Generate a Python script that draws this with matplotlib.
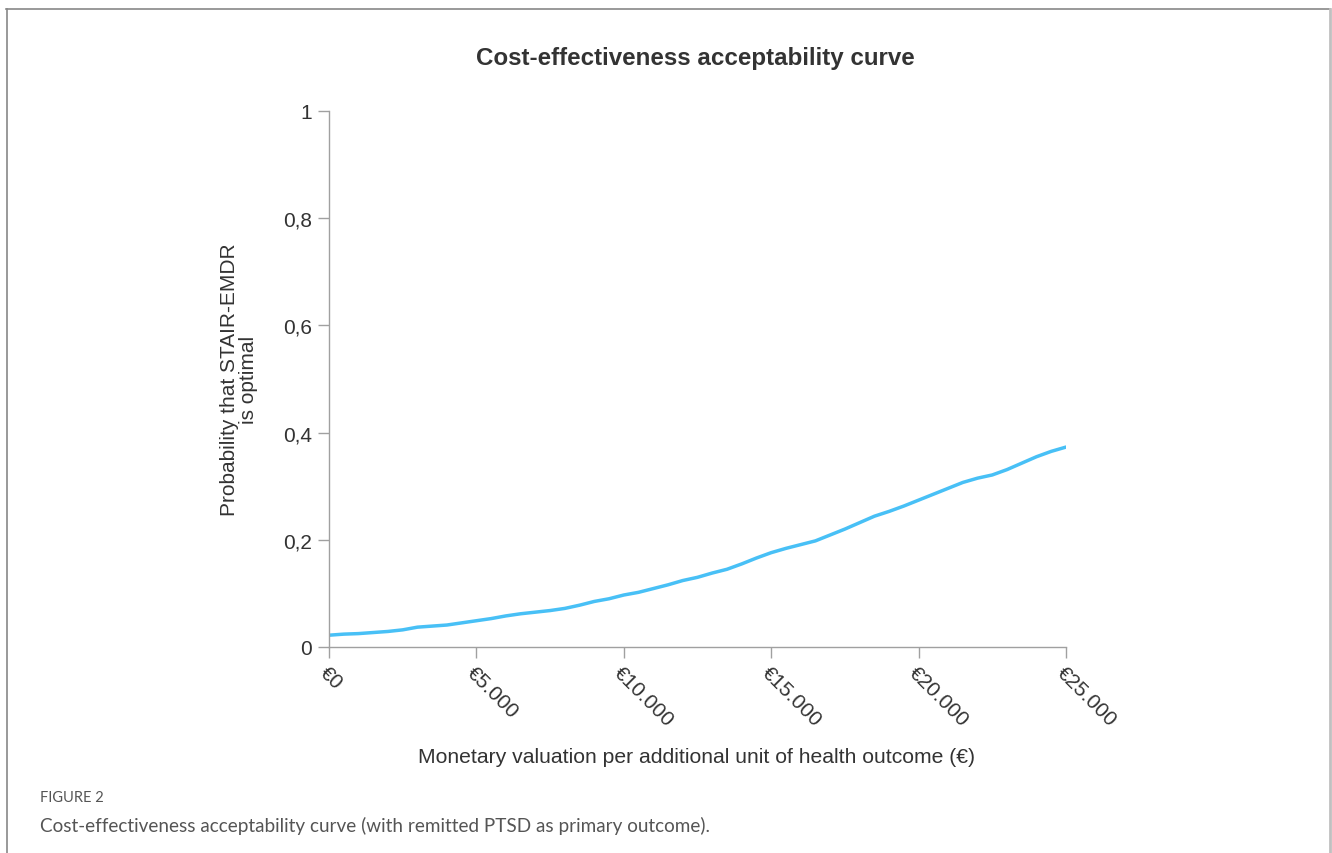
import matplotlib
matplotlib.use("Agg")
import matplotlib.pyplot as plt
from matplotlib.lines import Line2D

# ---- data ----
wtp = [0, 500, 1000, 1500, 2000, 2500, 3000, 3500, 4000, 4500, 5000, 5500, 6000,
       6500, 7000, 7500, 8000, 8500, 9000, 9500, 10000, 10500, 11000, 11500, 12000,
       12500, 13000, 13500, 14000, 14500, 15000, 15500, 16000, 16500, 17000, 17500,
       18000, 18500, 19000, 19500, 20000, 20500, 21000, 21500, 22000, 22500, 23000,
       23500, 24000, 24500, 25000]
prob = [0.022, 0.024, 0.025, 0.027, 0.029, 0.032, 0.037, 0.039, 0.041, 0.045, 0.049,
        0.053, 0.058, 0.062, 0.065, 0.068, 0.072, 0.078, 0.085, 0.090, 0.097, 0.102,
        0.109, 0.116, 0.124, 0.130, 0.138, 0.145, 0.155, 0.166, 0.176, 0.184, 0.191,
        0.198, 0.209, 0.220, 0.232, 0.244, 0.253, 0.263, 0.274, 0.285, 0.296, 0.307,
        0.315, 0.321, 0.331, 0.343, 0.355, 0.365, 0.373]
x_ticks = [0, 5000, 10000, 15000, 20000, 25000]
x_tick_labels = ["€0", "€5.000", "€10.000", "€15.000", "€20.000", "€25.000"]
y_ticks = [0, 0.2, 0.4, 0.6, 0.8, 1.0]
y_tick_labels = ["0", "0,2", "0,4", "0,6", "0,8", "1"]

title = "Cost-effectiveness acceptability curve"
xlabel = "Monetary valuation per additional unit of health outcome (€)"
ylabel = "Probability that STAIR-EMDR\nis optimal"

W, H = 1332, 854
plt.rcParams['font.family'] = ['Liberation Sans', 'DejaVu Sans']
fig = plt.figure(figsize=(W / 100, H / 100), dpi=100)
fig.patch.set_facecolor("white")

ax = fig.add_axes([329 / W, 1 - 648 / H, (1066 - 329) / W, (648 - 112) / H])
ax.plot(wtp, prob, color="#48c0f6", lw=2.5, solid_capstyle="round")
ax.set_xlim(0, 25000)
ax.set_ylim(0, 1)
for s in ["top", "right"]:
    ax.spines[s].set_visible(False)
for s in ["left", "bottom"]:
    ax.spines[s].set_color("#a0a0a0")
    ax.spines[s].set_linewidth(1.0)
ax.tick_params(axis="both", direction="out", length=8, width=1.0, color="#a0a0a0",
               labelcolor="#333333", labelsize=15)
ax.set_yticks(y_ticks)
ax.set_yticklabels(y_tick_labels)
ax.tick_params(axis="y", pad=4)
ax.set_xticks(x_ticks)
ax.set_xticklabels(x_tick_labels, rotation=-45, ha="left", va="top",
                   rotation_mode="anchor")
ax.tick_params(axis="x", pad=3)

fig.text(695 / W, 1 - 59 / H, title, ha="center", va="center", fontsize=17.4,
         fontweight="bold", color="#333333")
fig.text(697 / W, 1 - 758 / H, xlabel, ha="center", va="center", fontsize=15.2,
         color="#333333")
fig.text(239 / W, 1 - 380 / H, ylabel, ha="center", va="center", fontsize=15,
         color="#333333", rotation=90, linespacing=1.0)

# frame and caption
fig.add_artist(Line2D([6 / W, 1330 / W], [1 - 10 / H, 1 - 10 / H], transform=fig.transFigure,
                      color="#888888", lw=1.2))
fig.add_artist(Line2D([6.5 / W, 6.5 / W], [0, 1 - 10 / H], transform=fig.transFigure,
                      color="#888888", lw=1.2))
fig.add_artist(Line2D([1330 / W, 1330 / W], [0, 1 - 10 / H], transform=fig.transFigure,
                      color="#c0c0c0", lw=2.0))
fig.text(40 / W, 1 - 798 / H, "FIGURE 2", ha="left", va="center", fontsize=10.5,
         color="#555555", family=["Lato", "DejaVu Sans"])
fig.text(40 / W, 1 - 826 / H,
         "Cost-effectiveness acceptability curve (with remitted PTSD as primary outcome).",
         ha="left", va="center", fontsize=13.6, color="#555555",
         family=["Lato", "DejaVu Sans"])

fig.savefig("out.png", dpi=100, facecolor="white")
